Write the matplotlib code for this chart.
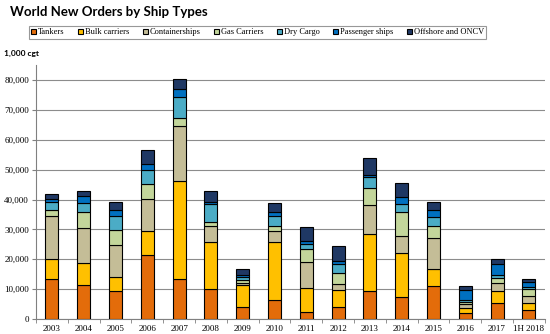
import numpy as np
import matplotlib.pyplot as plt

years = ["2003", "2004", "2005", "2006", "2007", "2008", "2009", "2010",
         "2011", "2012", "2013", "2014", "2015", "2016", "2017", "1H 2018"]

# cumulative tops (1,000 cgt), converted to segment sizes below
tankers_top = [13400, 11400, 9500, 21500, 13400, 10000, 4000, 6500,
               2500, 4000, 9500, 7400, 11000, 2000, 5400, 2900]
bulk_top = [20200, 18600, 14100, 29600, 46100, 25900, 11400, 25900,
            10300, 9700, 28600, 22200, 16800, 3600, 9500, 5200]
container_top = [34600, 30300, 24900, 40300, 64700, 31100, 12100, 29600,
                 19200, 11700, 38300, 27900, 27200, 4900, 12200, 7600]
gas_top = [36500, 35900, 29900, 45300, 67200, 32400, 12900, 31100,
           23500, 15500, 44000, 35900, 31100, 5800, 13800, 9900]
dry_top = [39200, 39000, 34600, 50000, 74300, 38400, 14100, 34400,
           25200, 18300, 47400, 38400, 34300, 6500, 14600, 10600]
passenger_top = [40300, 41200, 36600, 52000, 76900, 39100, 14700, 35900,
                 26200, 19300, 48300, 40700, 36500, 9700, 18400, 12300]
offshore_top = [41700, 42800, 39300, 56500, 80300, 43000, 16600, 38700,
                30800, 24600, 53800, 45500, 39300, 10900, 20200, 13300]

names = ["Tankers", "Bulk carriers", "Containerships", "Gas Carriers",
         "Dry Cargo", "Passenger ships", "Offshore and ONCV"]
colors = ["#E36C0A", "#FFC000", "#C4BD97", "#C3D69B", "#4BACC6", "#0070C0", "#1F3864"]

tops = np.array([tankers_top, bulk_top, container_top, gas_top,
                 dry_top, passenger_top, offshore_top], dtype=float)
segs = np.diff(np.vstack([np.zeros(len(years)), tops]), axis=0)

fig = plt.figure(figsize=(5.5, 3.34), dpi=100)
ax = fig.add_axes([0.0655, 0.045, 0.925, 0.76])

x = np.arange(len(years))
bottom = np.zeros(len(years))
handles = []
for seg, name, c in zip(segs, names, colors):
    b = ax.bar(x, seg, 0.41, bottom=bottom, color=c, edgecolor="black",
               linewidth=0.8, label=name, zorder=3)
    handles.append(b)
    bottom += seg

ax.set_ylim(0, 85000)
ax.set_xlim(-0.5, len(years) - 0.5)
ax.set_yticks(np.arange(0, 80001, 10000))
ax.set_yticklabels([f"{v:,}" for v in range(0, 80001, 10000)],
                   family="Liberation Serif", fontsize=6.5)
ax.set_xticks(x)
ax.set_xticklabels(years, family="Liberation Serif", fontsize=6.5)
ax.set_xticks(np.arange(-0.5, len(years), 1), minor=True)
ax.tick_params(axis="x", which="major", length=0, pad=4)
ax.tick_params(axis="x", which="minor", length=3, color="#808080")
ax.tick_params(axis="y", length=3, color="#808080", pad=2)
ax.grid(axis="y", color="#8c8c8c", linewidth=0.8, zorder=0)
for s in ["top", "right"]:
    ax.spines[s].set_visible(False)
ax.spines["left"].set_color("#808080")
ax.spines["bottom"].set_color("#808080")

fig.text(0.018, 0.963, "World New Orders by Ship Types", fontsize=9.5,
         fontweight="bold", family="Lato", va="center")
fig.text(0.008, 0.84, "1,000 cgt", fontsize=6, fontweight="bold",
         family="Lato", va="center")

leg = fig.legend(handles=handles, labels=names, loc="center",
                 bbox_to_anchor=(0.468, 0.903), ncol=7, frameon=True,
                 fancybox=False, edgecolor="#7f7f7f",
                 prop={"family": "Liberation Serif", "size": 6},
                 handlelength=0.6, handleheight=0.6, handletextpad=0.2,
                 columnspacing=1.65, borderpad=0.3)
leg.get_frame().set_linewidth(0.8)

fig.savefig("out.png", dpi=100)
